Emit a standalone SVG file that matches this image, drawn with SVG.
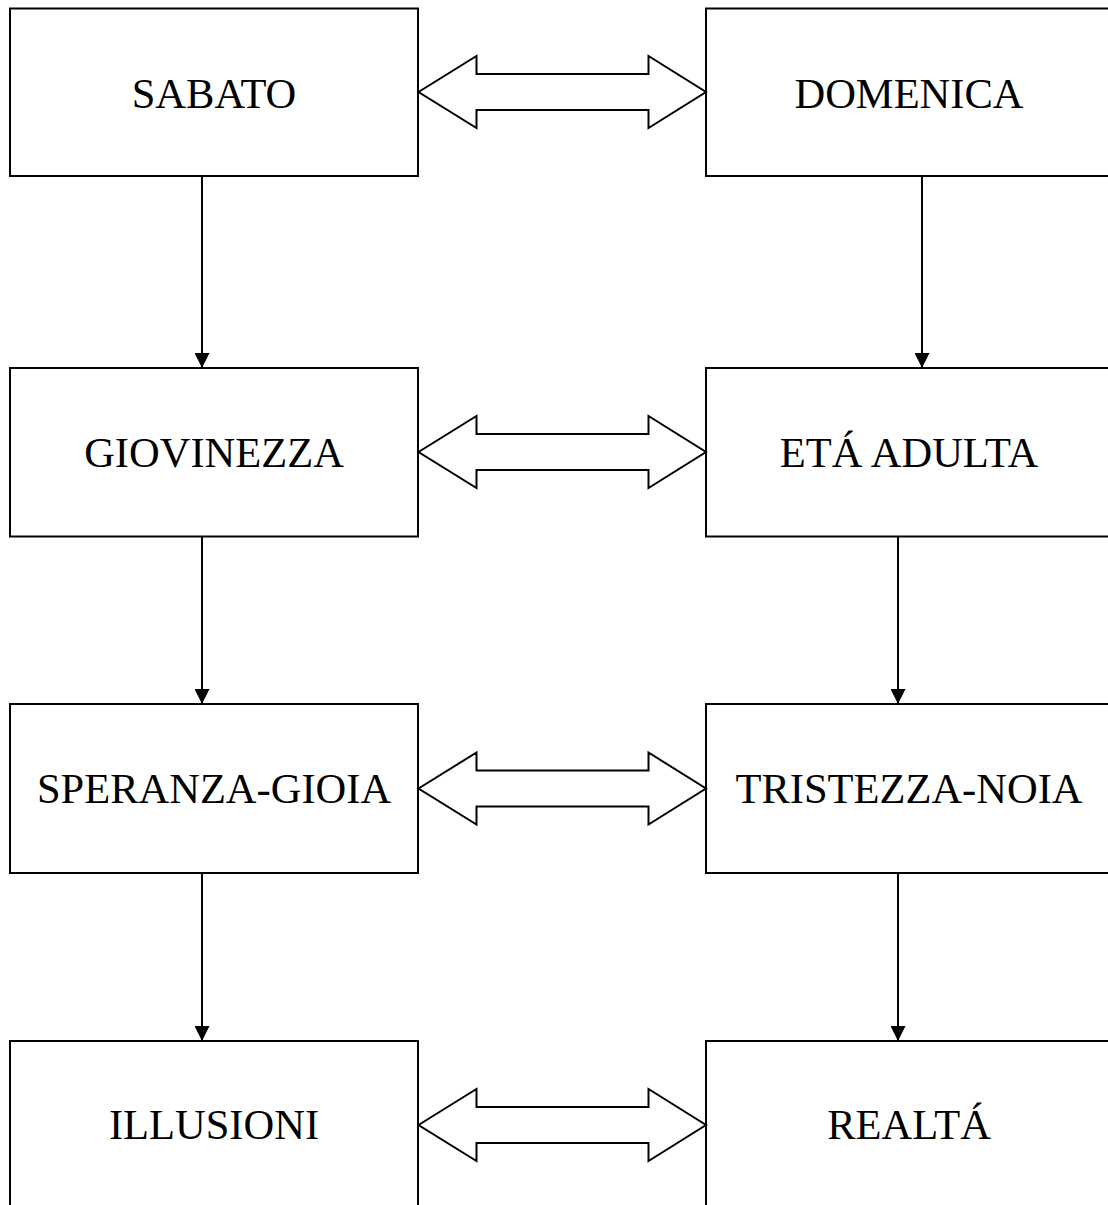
<svg xmlns="http://www.w3.org/2000/svg" width="1108" height="1205" viewBox="0 0 1108 1205">
<defs>
<style>
.box{fill:#fff;stroke:#000;stroke-width:2}
.lbl{font-family:"Liberation Serif","Times New Roman",serif;font-size:42.5px;fill:#000;text-anchor:middle}
.conn{stroke:#000;stroke-width:2;fill:none}
.dbl{fill:#fff;stroke:#000;stroke-width:2;stroke-linejoin:miter}
</style>
<marker id="ah" viewBox="0 0 15 15" refX="15" refY="7.5" markerWidth="15" markerHeight="15" markerUnits="userSpaceOnUse" orient="auto">
<path d="M0,0 L15,7.5 L0,15 Z" fill="#000"/>
</marker>
</defs>
<rect width="1108" height="1205" fill="#fff"/>
<g id="n-sabato"><rect class="box" x="10" y="8.5" width="408" height="167.5"/><text class="lbl" x="214" y="108">SABATO</text></g>
<g id="n-domenica"><rect class="box" x="706" y="8.5" width="406" height="167.5"/><text class="lbl" x="909" y="108">DOMENICA</text></g>
<g id="n-giovinezza"><rect class="box" x="10" y="368" width="408" height="168.5"/><text class="lbl" x="214" y="467">GIOVINEZZA</text></g>
<g id="n-eta"><rect class="box" x="706" y="368" width="406" height="168.5"/><text class="lbl" x="909" y="467">ETÁ ADULTA</text></g>
<g id="n-speranza"><rect class="box" x="10" y="704" width="408" height="169"/><text class="lbl" x="214" y="803">SPERANZA-GIOIA</text></g>
<g id="n-tristezza"><rect class="box" x="706" y="704" width="406" height="169"/><text class="lbl" x="909" y="803">TRISTEZZA-NOIA</text></g>
<g id="n-illusioni"><rect class="box" x="10" y="1041" width="408" height="170"/><text class="lbl" x="214" y="1139">ILLUSIONI</text></g>
<g id="n-realta"><rect class="box" x="706" y="1041" width="406" height="170"/><text class="lbl" x="909" y="1139">REALTÁ</text></g>
<g id="connectors">
<line class="conn" x1="202" y1="176" x2="202" y2="368" marker-end="url(#ah)"/>
<line class="conn" x1="922" y1="176" x2="922" y2="368" marker-end="url(#ah)"/>
<line class="conn" x1="202" y1="536.5" x2="202" y2="704" marker-end="url(#ah)"/>
<line class="conn" x1="898" y1="536.5" x2="898" y2="704" marker-end="url(#ah)"/>
<line class="conn" x1="202" y1="873" x2="202" y2="1041" marker-end="url(#ah)"/>
<line class="conn" x1="898" y1="873" x2="898" y2="1041" marker-end="url(#ah)"/>
<path class="dbl" d="M418.5,92 L476.5,56 L476.5,74 L648.5,74 L648.5,56 L706,92 L648.5,128 L648.5,110 L476.5,110 L476.5,128 Z"/>
<path class="dbl" d="M418.5,452 L476.5,416 L476.5,434 L648.5,434 L648.5,416 L706,452 L648.5,488 L648.5,470 L476.5,470 L476.5,488 Z"/>
<path class="dbl" d="M418.5,788.5 L476.5,752.5 L476.5,770.5 L648.5,770.5 L648.5,752.5 L706,788.5 L648.5,824.5 L648.5,806.5 L476.5,806.5 L476.5,824.5 Z"/>
<path class="dbl" d="M418.5,1125 L476.5,1089 L476.5,1107 L648.5,1107 L648.5,1089 L706,1125 L648.5,1161 L648.5,1143 L476.5,1143 L476.5,1161 Z"/>
</g>
</svg>
